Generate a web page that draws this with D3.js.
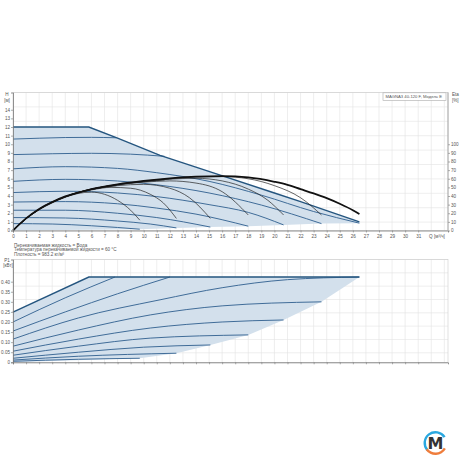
<!DOCTYPE html>
<html>
<head>
<meta charset="utf-8">
<script src="https://cdn.jsdelivr.net/npm/d3@7"></script>
<style>
  body { margin: 0; background: #fff; }
  svg { font-family: "Liberation Sans", Arial, sans-serif; }
</style>
</head>
<body>
<script>
// ---- data ----
var qTicks = d3.range(0, 32);
var hTicks = d3.range(0, 15);
var etaTicks = d3.range(0, 101, 10);
var pTicks = [0, 0.05, 0.10, 0.15, 0.20, 0.25, 0.30, 0.35, 0.40];

// QH: max curve and constant speed curves [Q, H]
var hMax = [[0,12],[5.8,12],[8,10.7],[11.25,8.7],[15.8,6.45],[20,4.35],[22,3.35],[24,2.3],[26.5,1.0]];
var hSpeed = [
  [[0,10.6],[2,10.7],[4,10.78],[6,10.8],[7.9,10.75]],
  [[0,8.8],[3,8.9],[6,8.95],[9,8.85],[11.6,8.6]],
  [[0,7.15],[4,7.4],[8,7.2],[11,6.7],[15,5.7],[19,4.1],[23,2.2],[26.5,0.85]],
  [[0,5.7],[4,5.93],[8,5.74],[11,5.3],[15,4.35],[19,2.95],[23.6,0.8]],
  [[0,4.4],[4,4.55],[8,4.35],[11,3.93],[15,3.0],[18,2.1],[20.7,0.65]],
  [[0,3.3],[4,3.35],[8,3.1],[11,2.6],[14,1.9],[18,0.5]],
  [[0,2.35],[4,2.35],[8,2.0],[11,1.5],[15.1,0.4]],
  [[0,1.5],[4,1.45],[8,1.1],[10.5,0.75],[12.5,0.3]],
  [[0,0.8],[3,0.75],[6,0.55],[8,0.35],[9.7,0.15]]
];
var hLowEdge = [[26.5,0.85],[23.6,0.8],[20.7,0.65],[18,0.5],[15.1,0.4],[12.5,0.3],[9.7,0.15],[0,0]];

// efficiency curves [Q, eta %]
var etaMax = [[0,0],[1,14],[2,25],[3,33],[4,39.5],[5,44],[6,48],[8,53.5],[10,57.5],[12,60.5],[14,62.5],[16,63],[18,61.5],[20,56.5],[21,53],[22,48],[23,43],[24,37.5],[25,31],[26,23.5],[26.5,19]];
var etaSpeed = [
  [[0,0],[1,13.5],[2,24],[3,32],[4,38.5],[5,43],[6,44.5],[7,42],[8,35],[9,23.5],[9.7,12]],
  [[0,0],[1,13.8],[2,24.5],[3,32.5],[4,39],[6,47],[7.5,50],[9,49],[10.5,42],[11.5,32],[12.5,14]],
  [[0,0],[1,13.8],[2,24.5],[4,39],[6,47.5],[8,52],[10,53.5],[12,49],[13.5,38],[15.1,14]],
  [[0,0],[1,13.9],[2,24.7],[4,39.2],[6,47.8],[8,53],[10,56],[12,57.5],[14,55],[16,45],[18,18]],
  [[0,0],[1,13.9],[2,24.8],[4,39.3],[6,47.9],[8,53.2],[10,57],[12,59.5],[14,60.5],[16,57.5],[18,48],[19.5,35],[20.7,18]],
  [[0,0],[1,14],[2,24.9],[4,39.4],[6,48],[8,53.4],[10,57.3],[12,60],[14,62],[16,62.5],[18,60],[20,52],[22,38],[23.6,18]],
  [[0,0],[1,13.8],[2,24.5],[4,39],[6,47.5],[7.9,52]],
  [[0,0],[1,13.9],[2,24.8],[4,39.3],[6,48],[8,53],[10,56.5],[11.6,58.5]]
];

// P1: power curves [Q, P1 kW]
var pMax = [[0,0.249],[5.8,0.423],[26.5,0.423]];
var pSpeed = [
  [[0,0.2],[4,0.32],[7.8,0.423]],
  [[0,0.155],[4,0.25],[8,0.34],[12,0.423]],
  [[0,0.115],[5,0.22],[11.25,0.31],[16,0.37],[21,0.41],[26.5,0.423]],
  [[0,0.08],[5,0.16],[10.5,0.235],[16,0.28],[23.6,0.30]],
  [[0,0.055],[5,0.115],[10.5,0.17],[16,0.2],[20.7,0.21]],
  [[0,0.035],[5,0.08],[10.5,0.12],[18,0.136]],
  [[0,0.02],[5,0.05],[10,0.075],[15.1,0.086]],
  [[0,0.011],[5,0.03],[12.5,0.045]],
  [[0,0.005],[5,0.015],[9.7,0.02]]
];
var pLowEdge = [[26.5,0.423],[23.6,0.30],[20.7,0.21],[18,0.136],[15.1,0.086],[12.5,0.045],[9.7,0.02],[0,0]];

var notes = ["Перекачиваемая жидкость = Вода",
             "Температура перекачиваемой жидкости = 60 °C",
             "Плотность = 983.2 кг/м³"];

// ---- layout ----
var W = 460, H = 460;
var left = 13, right = 448;
var top1 = 92.5, bot1 = 230.5;
var top2 = 259.5, bot2 = 362.3;

var svg = d3.select("body").append("svg").attr("width", W).attr("height", H);

var x = d3.scaleLinear().domain([0, 33.28]).range([left, right]);
var yH = d3.scaleLinear().domain([0, 16]).range([bot1, top1]);
var yEta = d3.scaleLinear().domain([0, 160]).range([bot1, top1]);
var yP = d3.scaleLinear().domain([0, 0.51]).range([bot2, top2]);

var gridCol = "#e2e2e2", axisCol = "#777", fillCol = "#d3e0ec", curveCol = "#2f5f8f";

function grid(top, bot, rowStep) {
  var g = svg.append("g").attr("stroke", gridCol).attr("stroke-width", 0.6);
  d3.range(1, 34).forEach(function(q) {
    g.append("line").attr("x1", x(q)).attr("x2", x(q)).attr("y1", top).attr("y2", bot);
  });
  for (var yy = top; yy < bot - 2; yy += rowStep) {
    g.append("line").attr("x1", left).attr("x2", right).attr("y1", yy).attr("y2", yy);
  }
  g.append("rect").attr("x", left).attr("y", top).attr("width", right - left).attr("height", bot - top)
    .attr("fill", "none").attr("stroke", "#ccc");
}
grid(top1, bot1, 14.4);
grid(top2, bot2, 13.33);

// ---- top chart ----
var lineH = d3.line().x(function(d){ return x(d[0]); }).y(function(d){ return yH(d[1]); });
var smoothH = d3.line().x(function(d){ return x(d[0]); }).y(function(d){ return yH(d[1]); }).curve(d3.curveMonotoneX);
var smoothEta = d3.line().x(function(d){ return x(d[0]); }).y(function(d){ return yEta(d[1]); }).curve(d3.curveMonotoneX);

svg.append("path").attr("d", lineH(hMax.concat(hLowEdge)) + "Z").attr("fill", fillCol);

hSpeed.forEach(function(c) {
  svg.append("path").attr("d", smoothH(c)).attr("fill", "none").attr("stroke", curveCol).attr("stroke-width", 0.9);
});
svg.append("path").attr("d", lineH(hMax)).attr("fill", "none").attr("stroke", "#24557f").attr("stroke-width", 1.4);

etaSpeed.forEach(function(c) {
  svg.append("path").attr("d", smoothEta(c)).attr("fill", "none").attr("stroke", "#222").attr("stroke-width", 0.7);
});
svg.append("path").attr("d", smoothEta(etaMax)).attr("fill", "none").attr("stroke", "#111").attr("stroke-width", 1.8);

// axes
var ax1 = svg.append("g").attr("transform", "translate(0," + bot1 + ")")
  .call(d3.axisBottom(x).tickValues(qTicks).tickSize(2).tickPadding(2).tickFormat(d3.format("d")));
var ay1 = svg.append("g").attr("transform", "translate(" + left + ",0)")
  .call(d3.axisLeft(yH).tickValues(hTicks).tickSize(2).tickPadding(1));
var ayr = svg.append("g").attr("transform", "translate(" + right + ",0)")
  .call(d3.axisRight(yEta).tickValues(etaTicks).tickSize(2).tickPadding(1));

// ---- bottom chart ----
var lineP = d3.line().x(function(d){ return x(d[0]); }).y(function(d){ return yP(d[1]); });
var smoothP = d3.line().x(function(d){ return x(d[0]); }).y(function(d){ return yP(d[1]); }).curve(d3.curveMonotoneX);

svg.append("path").attr("d", lineP(pMax.concat(pLowEdge)) + "Z").attr("fill", fillCol);
pSpeed.forEach(function(c) {
  svg.append("path").attr("d", smoothP(c)).attr("fill", "none").attr("stroke", curveCol).attr("stroke-width", 0.9);
});
svg.append("path").attr("d", lineP(pMax)).attr("fill", "none").attr("stroke", "#24557f").attr("stroke-width", 1.4);

var ax2 = svg.append("g").attr("transform", "translate(0," + bot2 + ")")
  .call(d3.axisBottom(x).tickValues(qTicks).tickSize(2).tickFormat(""));
var ay2 = svg.append("g").attr("transform", "translate(" + left + ",0)")
  .call(d3.axisLeft(yP).tickValues(pTicks).tickSize(2).tickPadding(1)
    .tickFormat(function(d){ return d === 0 ? "0" : d3.format(".2f")(d); }));

[ax1, ay1, ayr, ax2, ay2].forEach(function(a) {
  a.selectAll(".domain").attr("stroke", axisCol).attr("stroke-width", 0.8);
  a.selectAll(".tick line").attr("stroke", axisCol).attr("stroke-width", 0.6);
  a.selectAll("text").attr("font-size", 4.6).attr("fill", "#555").attr("font-family", "Liberation Sans, Arial, sans-serif");
});
ayr.select(".domain").remove();
svg.append("line").attr("x1", right).attr("x2", right).attr("y1", top1).attr("y2", bot1).attr("stroke", "#999").attr("stroke-width", 0.8);

// ---- texts ----
function label(t, px, py, anchor, fs) {
  svg.append("text").attr("x", px).attr("y", py).attr("font-size", fs || 4.6).attr("fill", "#555")
    .attr("text-anchor", anchor || "start").text(t);
}
label("H", 7, 96, "middle");
label("[м]", 7, 101.5, "middle");
label("Eta", 452, 96);
label("[%]", 452, 101.5);
label("Q [м³/ч]", 437, 237.5, "middle");
label("P1", 7, 262, "middle");
label("[кВт]", 8, 267, "middle");
notes.forEach(function(t, i) { label(t, 14, 246.5 + i * 4.8); });

// legend box
svg.append("rect").attr("x", 383).attr("y", 92.8).attr("width", 63).attr("height", 7.5)
  .attr("fill", "#fff").attr("stroke", "#aaa").attr("stroke-width", 0.6);
label("MAGNA3 40-120 F,  Модель E", 385.5, 98.2, "start", 4.2);

// ---- logo ----
var logo = svg.append("g").attr("transform", "translate(435.5,443)");
var arc = d3.arc().innerRadius(9.6).outerRadius(12);
logo.append("path").attr("d", arc({startAngle: -2.3, endAngle: 1.0})).attr("fill", "#2aa8e0");
logo.append("path").attr("d", arc({startAngle: 2.1, endAngle: 4.1})).attr("fill", "#ef7d3c");
logo.append("text").attr("x", 0).attr("y", 5.5).attr("text-anchor", "middle")
  .attr("font-size", 16).attr("font-weight", "bold").attr("fill", "#333")
  .attr("font-family", "DejaVu Sans, sans-serif").text("M");
</script>
</body>
</html>
